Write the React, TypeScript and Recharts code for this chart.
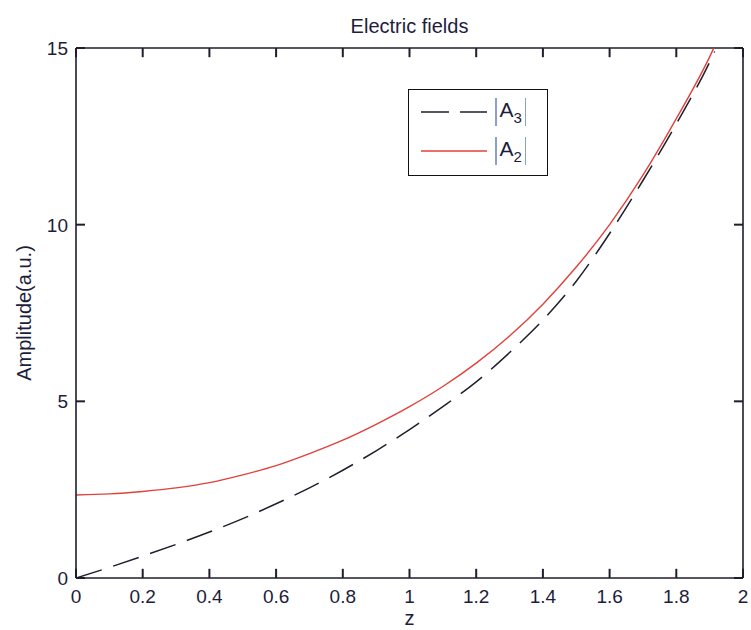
import { LineChart, Line, XAxis, YAxis, Label, ReferenceLine } from "recharts";

// |A2| and |A3| amplitude along z
const zValues = [0, 0.1, 0.2, 0.3, 0.4, 0.5, 0.6, 0.7, 0.8, 0.9, 1.0, 1.1, 1.2, 1.3, 1.4, 1.5, 1.6, 1.7, 1.8, 1.9, 1.915];
const a2Values = [2.35, 2.38, 2.45, 2.55, 2.7, 2.92, 3.18, 3.52, 3.9, 4.35, 4.85, 5.42, 6.08, 6.85, 7.75, 8.8, 10.0, 11.4, 13.0, 14.75, 15.05];
const a3Values = [0, 0.3, 0.62, 0.95, 1.3, 1.68, 2.1, 2.55, 3.05, 3.6, 4.2, 4.85, 5.55, 6.38, 7.3, 8.4, 9.75, 11.25, 12.85, 14.6, 14.9];

const xTicks = [0, 0.2, 0.4, 0.6, 0.8, 1, 1.2, 1.4, 1.6, 1.8, 2];
const yTicks = [0, 5, 10, 15];

const data = zValues.map((z, i) => ({ z, a2: a2Values[i], a3: a3Values[i] }));

const FONT = "'Liberation Sans', Arial, sans-serif";
const INK = "#1d1d3b";
const AXIS = "#1e1e2c";
const RED = "#e2403a";
const DARK = "#1f1f2e";

const W = 751;
const H = 630;
const M = { top: 48, right: 8, bottom: 52, left: 76 };

// inward tick length, in data units (~9px on each axis)
const X_TICK = 0.027;
const Y_TICK = 0.26;

function BottomTick({ x, payload }: any) {
  return (
    <text x={x} y={H - M.bottom + 25} textAnchor="middle" fill={INK} fontSize={19} fontFamily={FONT}>
      {payload.value}
    </text>
  );
}

function LeftTick({ y, payload }: any) {
  return (
    <text x={M.left - 8} y={y} dy="0.36em" textAnchor="end" fill={INK} fontSize={19} fontFamily={FONT}>
      {payload.value}
    </text>
  );
}

function LegendEntry({ sub, dashed, color, top }: { sub: string; dashed: boolean; color: string; top: number }) {
  return (
    <div style={{ position: "absolute", left: 0, top, width: "100%", height: 32 }}>
      <svg width={80} height={32} style={{ position: "absolute", left: 10, top: 0 }}>
        <line x1={2} x2={68} y1={16} y2={16} stroke={color} strokeWidth={1.7} strokeDasharray={dashed ? "28 11" : undefined} />
      </svg>
      <div
        style={{
          position: "absolute",
          left: 86,
          top: 0,
          height: 32,
          display: "flex",
          alignItems: "center",
          fontFamily: FONT,
          fontSize: 21,
          color: INK,
          whiteSpace: "nowrap",
        }}
      >
        <span style={{ display: "inline-block", width: 1.5, height: 28, background: "#8aa0c4", marginRight: 3 }} />
        <span>
          A<sub style={{ fontSize: 15, verticalAlign: "-6px" }}>{sub}</sub>
        </span>
        <span style={{ display: "inline-block", width: 1.5, height: 28, background: "#8aa0c4", marginLeft: 3 }} />
      </div>
    </div>
  );
}

export default function App() {
  return (
    <div style={{ position: "absolute", left: 0, top: 0, width: W, height: H, background: "#fff" }}>
      <LineChart width={W} height={H} data={data} margin={{ top: M.top, right: M.right, bottom: 0, left: 0 }}>
        <XAxis
          dataKey="z"
          type="number"
          domain={[0, 2]}
          ticks={xTicks}
          height={M.bottom}
          tickSize={0}
          tickLine={false}
          tick={BottomTick}
          axisLine={{ stroke: AXIS, strokeWidth: 1.6 }}
        >
          <Label value="z" position="insideBottom" offset={5} fill={INK} fontSize={20} fontFamily={FONT} />
        </XAxis>
        <YAxis
          type="number"
          domain={[0, 15]}
          allowDataOverflow
          ticks={yTicks}
          width={M.left}
          tickSize={0}
          tickLine={false}
          tick={LeftTick}
          axisLine={{ stroke: AXIS, strokeWidth: 1.6 }}
        >
          <Label
            value="Amplitude(a.u.)"
            angle={-90}
            position="insideLeft"
            offset={24}
            fill={INK}
            fontSize={20}
            fontFamily={FONT}
            style={{ textAnchor: "middle" }}
          />
        </YAxis>

        {/* box frame: top and right edges */}
        <ReferenceLine
          y={15}
          stroke={AXIS}
          strokeWidth={1.6}
          label={{ value: "Electric fields", position: "top", offset: 15, fill: INK, fontSize: 20, fontFamily: FONT }}
        />
        <ReferenceLine x={2} stroke={AXIS} strokeWidth={1.6} />

        {/* MATLAB style inward ticks on all four edges */}
        {xTicks.map((v) => (
          <ReferenceLine key={`xb${v}`} segment={[{ x: v, y: 0 }, { x: v, y: Y_TICK }]} stroke={AXIS} strokeWidth={2} ifOverflow="visible" />
        ))}
        {xTicks.map((v) => (
          <ReferenceLine key={`xt${v}`} segment={[{ x: v, y: 15 }, { x: v, y: 15 - Y_TICK }]} stroke={AXIS} strokeWidth={2} ifOverflow="visible" />
        ))}
        {yTicks.map((v) => (
          <ReferenceLine key={`yl${v}`} segment={[{ x: 0, y: v }, { x: X_TICK, y: v }]} stroke={AXIS} strokeWidth={2} ifOverflow="visible" />
        ))}
        {yTicks.map((v) => (
          <ReferenceLine key={`yr${v}`} segment={[{ x: 2, y: v }, { x: 2 - X_TICK, y: v }]} stroke={AXIS} strokeWidth={2} ifOverflow="visible" />
        ))}

        <Line
          type="monotone"
          dataKey="a3"
          stroke={DARK}
          strokeWidth={1.5}
          strokeDasharray="27 12"
          dot={false}
          isAnimationActive={false}
        />
        <Line type="monotone" dataKey="a2" stroke={RED} strokeWidth={1.4} dot={false} isAnimationActive={false} />
      </LineChart>

      <div
        style={{
          position: "absolute",
          left: 408,
          top: 89,
          width: 140,
          height: 87,
          boxSizing: "border-box",
          border: "1.5px solid #111",
          background: "#fff",
        }}
      >
        <LegendEntry sub="3" dashed color={DARK} top={6} />
        <LegendEntry sub="2" dashed={false} color={RED} top={45} />
      </div>
    </div>
  );
}
